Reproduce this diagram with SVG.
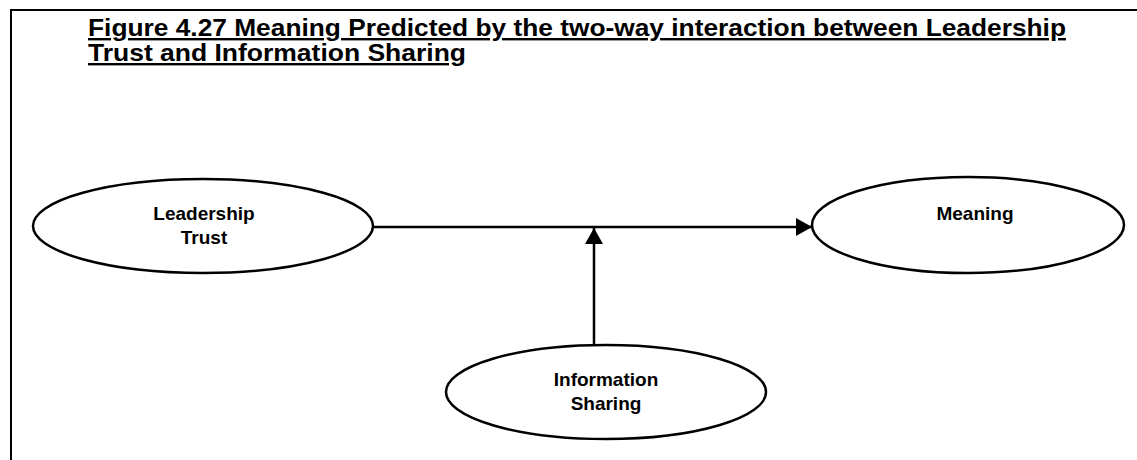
<svg xmlns="http://www.w3.org/2000/svg" width="1137" height="460" viewBox="0 0 1137 460">
<defs>
<style>
.frame{stroke:#000;stroke-width:2;fill:none}
.node{fill:#fff;stroke:#000;stroke-width:2.5}
.lbl{font-family:"Liberation Sans",Arial,sans-serif;font-weight:bold;font-size:19px;fill:#000;text-anchor:middle}
.title{font-family:"Liberation Sans",Arial,sans-serif;font-weight:bold;font-size:24px;fill:#000;text-decoration:underline}
.edge{stroke:#000;stroke-width:2.5;fill:none}
</style>
<marker id="arr" viewBox="0 0 16 18" refX="16" refY="9" markerWidth="16" markerHeight="18" markerUnits="userSpaceOnUse" orient="auto">
<path d="M0,0 L16,9 L0,18 Z" fill="#000"/>
</marker>
</defs>
<rect width="1137" height="460" fill="#fff"/>
<g id="frame">
<path class="frame" d="M11,460 V10 H1137"/>
</g>
<g id="title">
<text class="title" x="88" y="36" textLength="978" lengthAdjust="spacingAndGlyphs">Figure 4.27 Meaning Predicted by the two-way interaction between Leadership</text>
<text class="title" x="88" y="61" textLength="378" lengthAdjust="spacingAndGlyphs">Trust and Information Sharing</text>
</g>
<g id="connectors">
<line class="edge" x1="373" y1="227" x2="812" y2="227" marker-end="url(#arr)"/>
<line class="edge" x1="594" y1="345" x2="594" y2="228" marker-end="url(#arr)"/>
</g>
<g id="leadership-trust">
<ellipse class="node" cx="203" cy="226" rx="170" ry="47"/>
<text class="lbl" x="204" y="220">Leadership</text>
<text class="lbl" x="204" y="244">Trust</text>
</g>
<g id="meaning">
<ellipse class="node" cx="968" cy="225" rx="156" ry="48"/>
<text class="lbl" x="975" y="220">Meaning</text>
</g>
<g id="information-sharing">
<ellipse class="node" cx="606" cy="392" rx="160" ry="47"/>
<text class="lbl" x="606" y="386">Information</text>
<text class="lbl" x="606" y="410">Sharing</text>
</g>
</svg>
